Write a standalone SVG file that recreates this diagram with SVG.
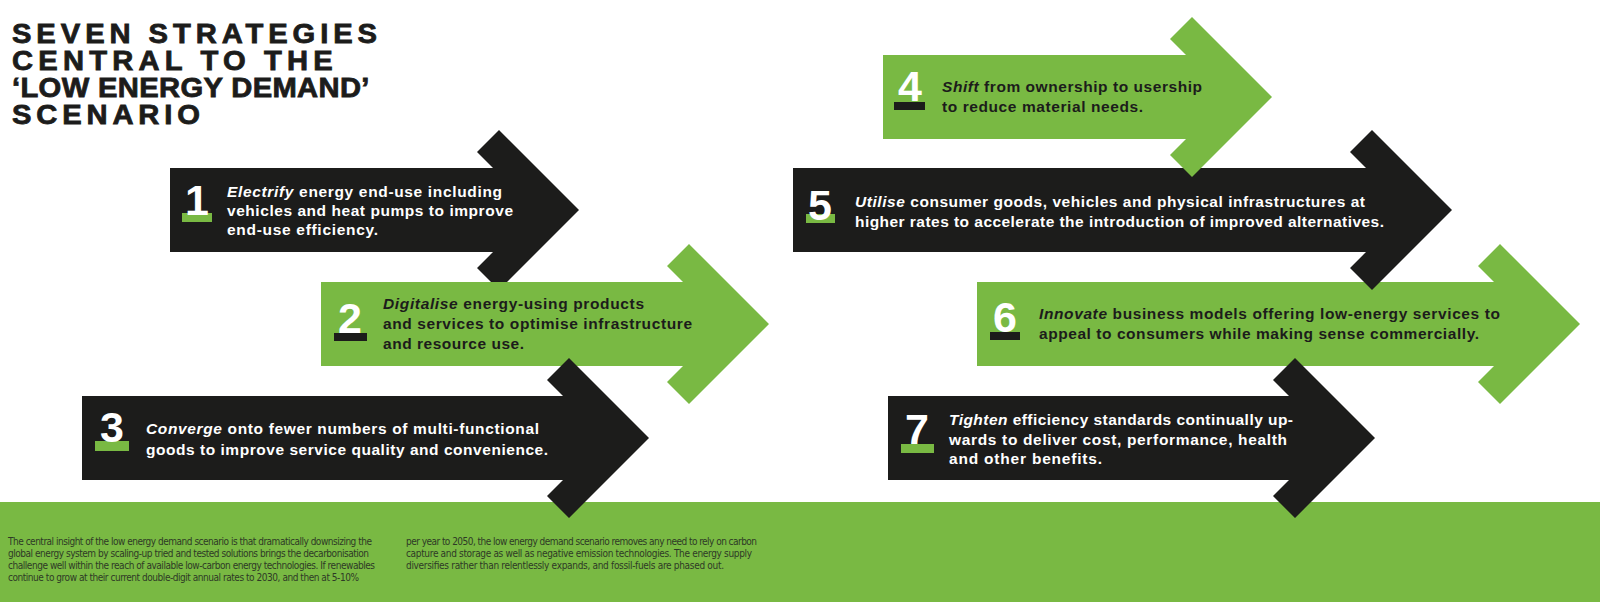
<svg xmlns="http://www.w3.org/2000/svg" width="1600" height="602" viewBox="0 0 1600 602">
<defs>
<style>
.bk{fill:#1c1c1b}
.gr{fill:#79b943}
.title{font-family:"Liberation Sans",Arial,sans-serif;font-weight:bold;font-size:27px;fill:#1c1c1b;stroke:#1c1c1b;stroke-width:0.8px}
.num{font-family:"Liberation Sans",Arial,sans-serif;font-weight:bold;font-size:43px;fill:#ffffff;text-anchor:middle}
.lbl{font-family:"Liberation Sans",Arial,sans-serif;font-weight:bold;font-size:15.5px}
.lw{fill:#ffffff}
.ld{fill:#1c1c1b}
.it{font-style:italic}
.body{font-family:"Liberation Sans Narrow","DejaVu Sans Condensed","Liberation Sans",sans-serif;font-size:10px;fill:#2e3a26}
</style>
</defs>
<rect width="1600" height="602" fill="#ffffff"/>
<rect id="band" x="0" y="502" width="1600" height="100" class="gr"/>

<g id="title">
<text class="title" transform="translate(12,43) scale(1.08,1)" textLength="338" lengthAdjust="spacing">SEVEN STRATEGIES</text>
<text class="title" transform="translate(12,70) scale(1.08,1)" textLength="297" lengthAdjust="spacing">CENTRAL TO THE</text>
<text class="title" transform="translate(12,97) scale(1.08,1)" textLength="331" lengthAdjust="spacing">‘LOW ENERGY DEMAND’</text>
<text class="title" transform="translate(12,124) scale(1.08,1)" textLength="174" lengthAdjust="spacing">SCENARIO</text>
</g>

<g id="connectors"></g>

<g id="node1">
<polygon class="bk" points="170,168 493,168 477,152 499,130 579,210 499,290 477,268 493,252 170,252"/>
<rect class="gr" x="182" y="213" width="30" height="9"/>
<text class="num" x="197" y="215">1</text>
<text class="lbl lw" x="227" y="197" textLength="275"><tspan class="it">Electrify</tspan> energy end-use including</text>
<text class="lbl lw" x="227" y="216" textLength="286">vehicles and heat pumps to improve</text>
<text class="lbl lw" x="227" y="235" textLength="151">end-use efficiency.</text>
</g>

<g id="node2">
<polygon class="gr" points="321,282 683,282 667,266 689,244 769,324 689,404 667,382 683,366 321,366"/>
<rect class="bk" x="334" y="333" width="33" height="8"/>
<text class="num" x="350" y="333">2</text>
<text class="lbl ld" x="383" y="309" textLength="261"><tspan class="it">Digitalise</tspan> energy-using products</text>
<text class="lbl ld" x="383" y="329" textLength="309">and services to optimise infrastructure</text>
<text class="lbl ld" x="383" y="349" textLength="141">and resource use.</text>
</g>

<g id="node3">
<polygon class="bk" points="82,396 563,396 547,380 569,358 649,438 569,518 547,496 563,480 82,480"/>
<rect class="gr" x="95" y="441" width="34" height="10"/>
<text class="num" x="112" y="442">3</text>
<text class="lbl lw" x="146" y="434" textLength="393"><tspan class="it">Converge</tspan> onto fewer numbers of multi-functional</text>
<text class="lbl lw" x="146" y="455" textLength="402">goods to improve service quality and convenience.</text>
</g>

<g id="node6">
<polygon class="gr" points="977,282 1494,282 1478,266 1500,244 1580,324 1500,404 1478,382 1494,366 977,366"/>
<rect class="bk" x="990" y="332" width="30" height="8"/>
<text class="num" x="1005" y="332">6</text>
<text class="lbl ld" x="1039" y="319" textLength="461"><tspan class="it">Innovate</tspan> business models offering low-energy services to</text>
<text class="lbl ld" x="1039" y="339" textLength="440">appeal to consumers while making sense commercially.</text>
</g>

<g id="node5">
<polygon class="bk" points="793,168 1366,168 1350,152 1372,130 1452,210 1372,290 1350,268 1366,252 793,252"/>
<rect class="gr" x="806" y="214" width="29" height="9"/>
<text class="num" x="820" y="220">5</text>
<text class="lbl lw" x="855" y="207" textLength="510"><tspan class="it">Utilise</tspan> consumer goods, vehicles and physical infrastructures at</text>
<text class="lbl lw" x="855" y="227" textLength="529">higher rates to accelerate the introduction of improved alternatives.</text>
</g>

<g id="node4">
<polygon class="gr" points="883,55 1186,55 1170,39 1192,17 1272,97 1192,177 1170,155 1186,139 883,139"/>
<rect class="bk" x="894" y="102" width="31" height="8"/>
<text class="num" x="910" y="101">4</text>
<text class="lbl ld" x="942" y="92" textLength="260"><tspan class="it">Shift</tspan> from ownership to usership</text>
<text class="lbl ld" x="942" y="112" textLength="201">to reduce material needs.</text>
</g>

<g id="node7">
<polygon class="bk" points="888,396 1289,396 1273,380 1295,358 1375,438 1295,518 1273,496 1289,480 888,480"/>
<rect class="gr" x="901" y="444" width="33" height="9"/>
<text class="num" x="917" y="444">7</text>
<text class="lbl lw" x="949" y="425" textLength="344"><tspan class="it">Tighten</tspan> efficiency standards continually up-</text>
<text class="lbl lw" x="949" y="445" textLength="338">wards to deliver cost, performance, health</text>
<text class="lbl lw" x="949" y="464" textLength="153">and other benefits.</text>
</g>

<g id="footer">
<text class="body" x="8" y="545" textLength="364">The central insight of the low energy demand scenario is that dramatically downsizing the</text>
<text class="body" x="8" y="557" textLength="361">global energy system by scaling-up tried and tested solutions brings the decarbonisation</text>
<text class="body" x="8" y="569" textLength="367">challenge well within the reach of available low-carbon energy technologies. If renewables</text>
<text class="body" x="8" y="581" textLength="351">continue to grow at their current double-digit annual rates to 2030, and then at 5-10%</text>
<text class="body" x="406" y="545" textLength="351">per year to 2050, the low energy demand scenario removes any need to rely on carbon</text>
<text class="body" x="406" y="557" textLength="346">capture and storage as well as negative emission technologies. The energy supply</text>
<text class="body" x="406" y="569" textLength="318">diversifies rather than relentlessly expands, and fossil-fuels are phased out.</text>
</g>
</svg>
